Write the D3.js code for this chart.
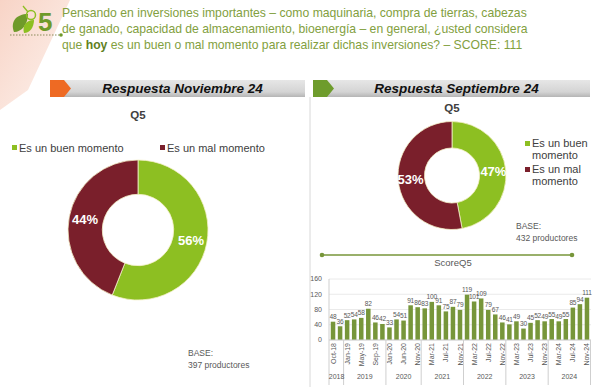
<!DOCTYPE html>
<html lang="es">
<head>
<meta charset="UTF-8">
<title>Q5 inversiones</title>
<script src="https://d3js.org/d3.v7.min.js"></script>
<style>
  body { margin: 0; background: #fff; }
  svg { font-family: "Liberation Sans", Arial, sans-serif; }
  .q { fill: #82a040; font-size: 12.2px; }
  .hdr { font-size: 13.5px; font-weight: bold; font-style: italic; fill: #111; text-anchor: middle; }
  .ttl { font-size: 11.5px; fill: #404040; text-anchor: middle; font-weight: bold; }
  .leg { font-size: 11px; fill: #404040; }
  .base { font-size: 8.5px; fill: #595959; }
  .pct { font-size: 13px; font-weight: bold; fill: #fff; text-anchor: middle; }
  .tick { font-size: 7px; fill: #595959; }
  .vlab { font-size: 6.6px; fill: #595959; text-anchor: middle; letter-spacing: -0.2px; }
</style>
</head>
<body>
<script>
// --- data ---
const answers = ["Es un buen momento", "Es un mal momento"];
const novValues = [56, 44];
const sepValues = [47, 53];
const novBase = "397 productores";
const sepBase = "432 productores";

const months = ["Oct-18","Nov-18",
  "Jan-19","Mar-19","May-19","Jul-19","Sep-19","Nov-19",
  "Jan-20","Mar-20","Jun-20","Sep-20","Nov-20",
  "Jan-21","Mar-21","May-21","Jul-21","Sep-21","Nov-21",
  "Jan-22","Mar-22","May-22","Jul-22","Sep-22","Nov-22",
  "Jan-23","Mar-23","May-23","Jul-23","Sep-23","Nov-23",
  "Jan-24","Mar-24","May-24","Jul-24","Sep-24","Nov-24"];
const scores = [48,36, 52,54,58,82,46,42, 33,54,51,91,86,
  83,100,91,75,87,79, 119,101,109,79,67,46, 41,49,30,45,52,49, 55,49,55,85,94,111];
const years = ["2018","2019","2020","2021","2022","2023","2024"];
const yearCounts = [2, 6, 5, 6, 6, 6, 6];
const yTicks = [0, 40, 80, 120, 160];

const green = "#8dbf22", maroon = "#7a1f2b", barGreen = "#77963a";

const W = 600, H = 387;
const svg = d3.select("body").append("svg").attr("width", W).attr("height", H);

// faint corner wash
const defs = svg.append("defs");
const cg = defs.append("linearGradient").attr("id", "corner").attr("x1", 0).attr("y1", 0).attr("x2", 1).attr("y2", 1);
cg.append("stop").attr("offset", 0).attr("stop-color", "#f6c9b8");
cg.append("stop").attr("offset", 1).attr("stop-color", "#fdf0ea");
svg.append("path").attr("d", "M0,0 L70,0 L28,90 L0,110 Z").attr("fill", "url(#corner)").attr("opacity", 0.8);

const bg = defs.append("linearGradient").attr("id", "bar").attr("x1", 0).attr("y1", 0).attr("x2", 0).attr("y2", 1);
bg.append("stop").attr("offset", 0).attr("stop-color", "#e6e6e6");
bg.append("stop").attr("offset", 0.7).attr("stop-color", "#d4d4d4");
bg.append("stop").attr("offset", 1).attr("stop-color", "#b5b5b5");

// logo
const logo = svg.append("g");
logo.append("path").attr("d", "M14,32 C10,22 16,14 28,14 C28,24 22,32 14,32 Z").attr("fill", "#6f9a2a");
logo.append("path").attr("d", "M24,33 C22,26 26,20 34,20 C34,27 30,33 24,33 Z").attr("fill", "#8dbf22");
logo.append("circle").attr("cx", 31).attr("cy", 15).attr("r", 4.5).attr("fill", "none").attr("stroke", "#8dbf22").attr("stroke-width", 1.5);
logo.append("line").attr("x1", 28).attr("y1", 12).attr("x2", 23).attr("y2", 6).attr("stroke", "#8dbf22").attr("stroke-width", 1.3);
logo.append("text").attr("x", 38).attr("y", 31).attr("font-size", 26).attr("font-weight", "bold").attr("fill", "#6f9a2a").text("5");
logo.append("line").attr("x1", 10).attr("y1", 35).attr("x2", 60).attr("y2", 35)
  .attr("stroke", "#8a8a5a").attr("stroke-dasharray", "1.5,1.5").attr("stroke-width", 1);
logo.append("circle").attr("cx", 61).attr("cy", 35).attr("r", 1.8).attr("fill", "#6f9a2a");

// question text
const qx = 62;
svg.append("text").attr("class", "q").attr("x", qx).attr("y", 17)
  .text("Pensando en inversiones importantes – como maquinaria, compra de tierras, cabezas");
svg.append("text").attr("class", "q").attr("x", qx).attr("y", 33)
  .text("de ganado, capacidad de almacenamiento, bioenergía – en general, ¿usted considera");
const q3 = svg.append("text").attr("class", "q").attr("x", qx).attr("y", 49);
q3.append("tspan").text("que ");
q3.append("tspan").attr("font-weight", "bold").attr("fill", "#5f7f22").text("hoy");
q3.append("tspan").text(" es un buen o mal momento para realizar dichas inversiones? – SCORE: 111");

// header bars
function header(x0, x1, color, label) {
  svg.append("rect").attr("x", x0).attr("y", 80).attr("width", x1 - x0).attr("height", 17).attr("fill", "url(#bar)");
  svg.append("path").attr("d", `M${x0},80 L${x0 + 14},80 L${x0 + 21},88.5 L${x0 + 14},97 L${x0},97 Z`).attr("fill", color);
  svg.append("text").attr("class", "hdr").attr("x", (x0 + x1) / 2 + 5).attr("y", 93).text(label);
}
header(50, 305, "#ee6a23", "Respuesta Noviembre 24");
header(313, 590, "#6e9c2c", "Respuesta Septiembre 24");

// divider
svg.append("line").attr("x1", 310).attr("y1", 97).attr("x2", 310).attr("y2", 387).attr("stroke", "#d8d8d8");

// donuts
const pie = d3.pie().sort(null).value(d => d);
function donut(cx, cy, r, values, labelR) {
  const arc = d3.arc().innerRadius(r * 0.51).outerRadius(r);
  const g = svg.append("g").attr("transform", `translate(${cx},${cy})`);
  const arcs = pie(values);
  g.selectAll("path").data(arcs).join("path")
    .attr("d", arc).attr("fill", (d, i) => i === 0 ? green : maroon)
    .attr("stroke", "#f4f0c8").attr("stroke-width", 0.8);
  const lab = d3.arc().innerRadius(r * labelR).outerRadius(r * labelR);
  g.selectAll("text").data(arcs).join("text")
    .attr("class", "pct")
    .attr("transform", d => `translate(${lab.centroid(d)})`)
    .attr("dy", "0.35em")
    .text(d => d.data + "%");
}

// left (Nov 24)
svg.append("text").attr("class", "ttl").attr("x", 138).attr("y", 119).text("Q5");
const legL = [{x: 12, t: answers[0], c: green}, {x: 160, t: answers[1], c: maroon}];
legL.forEach(d => {
  svg.append("rect").attr("x", d.x).attr("y", 145).attr("width", 5).attr("height", 5).attr("fill", d.c);
  svg.append("text").attr("class", "leg").attr("x", d.x + 7).attr("y", 152).text(d.t);
});
donut(138, 230, 70, novValues, 0.77);
svg.append("text").attr("class", "base").attr("x", 188).attr("y", 356).text("BASE:");
svg.append("text").attr("class", "base").attr("x", 188).attr("y", 368).text(novBase);

// right (Sep 24)
svg.append("text").attr("class", "ttl").attr("x", 452).attr("y", 112).text("Q5");
donut(452, 175.5, 54, sepValues, 0.77);
[[answers[0], green, 144], [answers[1], maroon, 170]].forEach(([t, c, y]) => {
  svg.append("rect").attr("x", 525).attr("y", y - 3).attr("width", 5).attr("height", 5).attr("fill", c);
  const words = t.split(" ");
  svg.append("text").attr("class", "leg").attr("x", 532).attr("y", y + 2.5).text(words.slice(0, 3).join(" "));
  svg.append("text").attr("class", "leg").attr("x", 532).attr("y", y + 14.5).text(words.slice(3).join(" "));
});
svg.append("text").attr("class", "base").attr("x", 516).attr("y", 229).text("BASE:");
svg.append("text").attr("class", "base").attr("x", 516).attr("y", 241).text(sepBase);

// ScoreQ5 title bar
svg.append("line").attr("x1", 322).attr("y1", 255).attr("x2", 572).attr("y2", 255).attr("stroke", "#77963a").attr("stroke-width", 1.6);
[322, 572].forEach(x => svg.append("circle").attr("cx", x).attr("cy", 255).attr("r", 2.3).attr("fill", "#77963a"));
svg.append("text").attr("x", 453).attr("y", 266).attr("text-anchor", "middle").attr("font-size", 9.5).attr("fill", "#595959").text("ScoreQ5");

// bar chart
const x = d3.scaleBand().domain(months).range([329.5, 590.5]).paddingInner(0.36).paddingOuter(0.18);
const y = d3.scaleLinear().domain([0, 160]).range([340, 279]);

const chart = svg.append("g");
chart.selectAll(".grid").data(yTicks).join("line")
  .attr("x1", 329).attr("x2", 591).attr("y1", d => y(d)).attr("y2", d => y(d))
  .attr("stroke", "#e4e4e4").attr("stroke-width", 0.8);
chart.selectAll(".yt").data(yTicks).join("text")
  .attr("class", "tick").attr("x", 322).attr("y", d => y(d)).attr("dy", "0.35em")
  .attr("text-anchor", "end").text(d => d);

chart.selectAll("rect.b").data(scores).join("rect")
  .attr("class", "b")
  .attr("x", (d, i) => x(months[i])).attr("width", x.bandwidth())
  .attr("y", d => y(d)).attr("height", d => y(0) - y(d))
  .attr("fill", barGreen);
chart.selectAll("text.v").data(scores).join("text")
  .attr("class", "vlab")
  .attr("x", (d, i) => x(months[i]) + x.bandwidth() / 2)
  .attr("y", d => y(d) - 2.5).text(d => d);

// axis lines
chart.append("line").attr("x1", 329).attr("x2", 329).attr("y1", 279).attr("y2", 385).attr("stroke", "#cfcfcf");
chart.append("line").attr("x1", 329).attr("x2", 591).attr("y1", 340).attr("y2", 340).attr("stroke", "#cfcfcf");

// month labels (every other)
chart.selectAll("text.m").data(months.filter((d, i) => i % 2 === 0)).join("text")
  .attr("class", "tick")
  .attr("transform", d => `translate(${x(d) + x.bandwidth() / 2 + 2.5},343) rotate(-90)`)
  .attr("text-anchor", "end").text(d => d);

// year groups
let idx = 0;
years.forEach((yr, k) => {
  const first = months[idx], last = months[idx + yearCounts[k] - 1];
  const left = x(first) - x.step() * x.paddingInner() / 2;
  const right = x(last) + x.bandwidth() + x.step() * x.paddingInner() / 2;
  chart.append("line").attr("x1", right).attr("x2", right).attr("y1", 340).attr("y2", 385).attr("stroke", "#cfcfcf");
  chart.append("text").attr("class", "tick").attr("x", (left + right) / 2).attr("y", 379)
    .attr("text-anchor", "middle").text(yr);
  idx += yearCounts[k];
});
</script>
</body>
</html>
